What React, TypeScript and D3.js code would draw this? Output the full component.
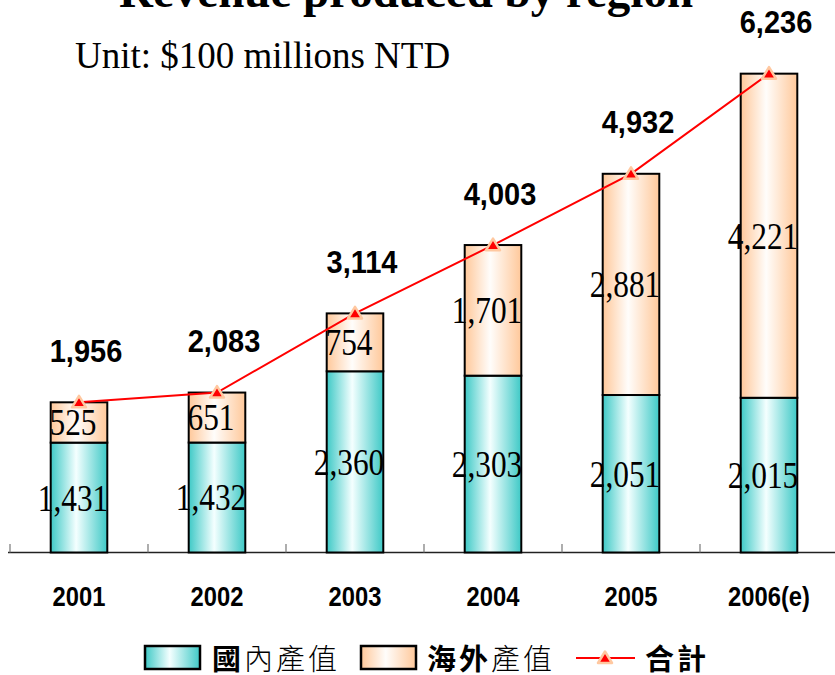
import * as d3 from 'd3'

const years = ['2001', '2002', '2003', '2004', '2005', '2006(e)']
const domestic = [1431, 1432, 2360, 2303, 2051, 2015]
const overseas = [525, 651, 754, 1701, 2881, 4221]
const totals = [1956, 2083, 3114, 4003, 4932, 6236]

const W = 835
const H = 675
const fmt = d3.format(',')

export default function App() {
  const x = d3.scaleBand().domain(years).range([10, 838]).paddingInner(0).paddingOuter(0)
  const y = d3.scaleLinear().domain([0, 7000]).range([552.5, 15])
  const barW = x.bandwidth() * 0.41
  const cx = (d: string) => (x(d) as number) + x.bandwidth() / 2

  const line = d3.line<number>()
    .x((_, i) => cx(years[i]))
    .y(d => y(d))

  const tri = (px: number, py: number, s = 1) =>
    `M${px},${py - 6.5 * s}L${px + 7 * s},${py + 5 * s}L${px - 7 * s},${py + 5 * s}Z`

  const serif = '"Liberation Serif", "Times New Roman", serif'
  const sans = '"Liberation Sans", Arial, sans-serif'
  const cjk = '"Noto Sans CJK TC", "Noto Sans CJK SC", sans-serif'

  return (
    <svg width={W} height={H} style={{ position: 'absolute', left: 0, top: 0, background: '#fff' }}>
      <defs>
        <linearGradient id="gDom" x1="0" x2="1" y1="0" y2="0">
          <stop offset="0%" stopColor="#3ec9c6" />
          <stop offset="45%" stopColor="#f4ffff" />
          <stop offset="100%" stopColor="#3ec9c6" />
        </linearGradient>
        <linearGradient id="gOver" x1="0" x2="1" y1="0" y2="0">
          <stop offset="0%" stopColor="#ffc89a" />
          <stop offset="45%" stopColor="#fffdfb" />
          <stop offset="100%" stopColor="#ffc89a" />
        </linearGradient>
      </defs>

      {/* title, cut at the top like the source */}
      <text x={406} y={7} textAnchor="middle" fontFamily={serif} fontWeight="bold" fontSize={47}>
        Revenue produced by region
      </text>
      <text x={75} y={68} fontFamily={serif} fontSize={37}>
        Unit: $100 millions NTD
      </text>

      {/* axis */}
      <line x1={8} x2={835} y1={552.5} y2={552.5} stroke="#222" strokeWidth={1.5} />
      {years.map(d => (
        <line key={'t' + d} x1={x(d)} x2={x(d)} y1={544} y2={552.5} stroke="#777" strokeWidth={1.2} />
      ))}
      {years.map(d => (
        <text key={'xl' + d} transform={`translate(${cx(d)},606) scale(0.95,1.1)`} textAnchor="middle"
          fontFamily={sans} fontWeight="bold" fontSize={25}>{d}</text>
      ))}

      {/* stacked bars */}
      {years.map((d, i) => (
        <g key={'b' + d}>
          <rect x={cx(d) - barW / 2} y={y(domestic[i])} width={barW}
            height={y(0) - y(domestic[i])} fill="url(#gDom)" stroke="#000" strokeWidth={2} />
          <rect x={cx(d) - barW / 2} y={y(domestic[i] + overseas[i])} width={barW}
            height={y(domestic[i]) - y(domestic[i] + overseas[i])} fill="url(#gOver)" stroke="#000" strokeWidth={2} />
        </g>
      ))}

      {/* segment labels */}
      {years.map((d, i) => {
        const yd = (y(0) + y(domestic[i])) / 2
        const yo = (y(domestic[i]) + y(domestic[i] + overseas[i])) / 2
        return (
          <g key={'sl' + d} fontFamily={serif} fontSize={33}>
            <text transform={`translate(${cx(d) - 6},${yd}) scale(0.95,1.12)`} textAnchor="middle" dominantBaseline="central">{fmt(domestic[i])}</text>
            <text transform={`translate(${cx(d) - 6},${yo}) scale(0.95,1.12)`} textAnchor="middle" dominantBaseline="central">{fmt(overseas[i])}</text>
          </g>
        )
      })}

      {/* total line */}
      <path d={line(totals) as string} fill="none" stroke="#ff0000" strokeWidth={2} />
      {totals.map((t, i) => (
        <path key={'m' + i} d={tri(cx(years[i]), y(t))} fill="#ff0000" stroke="#ffc8a0" strokeWidth={2.5} strokeLinejoin="round" />
      ))}
      {totals.map((t, i) => (
        <text key={'tl' + i} transform={`translate(${cx(years[i]) + 7},${y(t) - 52}) scale(1,1.1)`} textAnchor="middle" dominantBaseline="central"
          fontFamily={sans} fontWeight="bold" fontSize={29}>{fmt(t)}</text>
      ))}

      {/* legend */}
      <g fontFamily={cjk} fontSize={29} letterSpacing={3}>
        <rect x={145} y={646} width={55} height={23} fill="url(#gDom)" stroke="#000" strokeWidth={2.5} />
        <text x={212} y={657} dominantBaseline="central" fontWeight="bold">國</text>
        <text x={244} y={657} dominantBaseline="central" fontWeight="300">內產值</text>
        <rect x={361} y={646} width={55} height={23} fill="url(#gOver)" stroke="#000" strokeWidth={2.5} />
        <text x={427} y={657} dominantBaseline="central" fontWeight="bold">海外</text>
        <text x={491} y={657} dominantBaseline="central" fontWeight="300">產值</text>
        <line x1={576} x2={635} y1={658} y2={658} stroke="#ff0000" strokeWidth={2} />
        <path d={tri(605, 658)} fill="#ff0000" stroke="#ffc8a0" strokeWidth={2.5} strokeLinejoin="round" />
        <text x={645} y={657} dominantBaseline="central" fontWeight="bold">合計</text>
      </g>
    </svg>
  )
}
